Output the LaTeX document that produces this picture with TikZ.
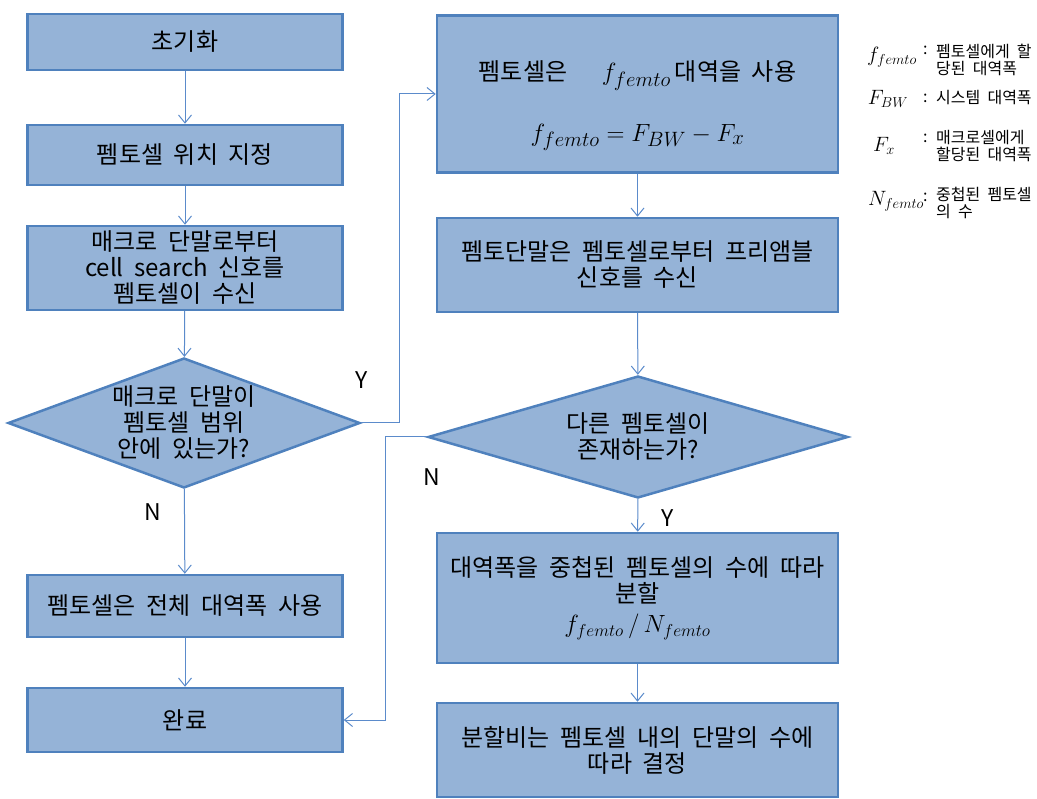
\documentclass[tikz,border=0pt]{standalone}
\usepackage{fontspec}
\setmainfont[WordSpace=2]{Noto Sans CJK KR}
\usetikzlibrary{shapes.geometric,arrows.meta}

\definecolor{boxfill}{HTML}{95B3D7}
\definecolor{boxline}{HTML}{4F81BD}
\definecolor{flowline}{HTML}{5B8BCB}

\tikzset{
  box/.style={draw=boxline, fill=boxfill, line width=2.5pt, rectangle, align=center,
    inner sep=2pt, font=\fontsize{24}{26}\selectfont},
  decision/.style={draw=boxline, fill=boxfill, line width=2.5pt, diamond, align=center,
    inner sep=0pt, font=\fontsize{24}{26}\selectfont},
  flow/.style={draw=flowline, line width=1pt, -{Straight Barb[length=8pt,width=13pt]}},
  yn/.style={font=\fontsize{23}{26}\selectfont},
  sym/.style={font=\fontsize{21}{21}\selectfont},
  note/.style={font=\fontsize{16}{17}\selectfont, align=left, anchor=west, inner sep=0pt}
}

\begin{document}
\begin{tikzpicture}[x=1pt,y=-1pt]
  \useasboundingbox (0,0) rectangle (1037,799);

  % Left column
  \node[box, minimum width=315, minimum height=56] (init) at (185,42) {초기화};
  \node[box, minimum width=315, minimum height=60] (place) at (185,155) {펨토셀 위치 지정};
  \node[box, minimum width=315, minimum height=84] (recv) at (185,268)
    {매크로 단말로부터\\cell search 신호를\\펨토셀이 수신};
  \node[decision, aspect=2.7, minimum width=352, minimum height=130] (inrange) at (184,423)
    {매크로 단말이\\펨토셀 범위\\안에 있는가?};
  \node[box, minimum width=315, minimum height=62] (full) at (185,606) {펨토셀은 전체 대역폭 사용};
  \node[box, minimum width=315, minimum height=64] (done) at (185,720) {완료};

  % Right column
  \node[box, minimum width=401, minimum height=157] (useband) at (637.5,94)
    {\rule{0pt}{44pt}펨토셀은 \quad{\fontsize{30}{30}\selectfont$f_{femto}$}\,대역을 사용\\[32pt]
     {\fontsize{28}{28}\selectfont$f_{femto}=F_{BW}-F_x$}};
  \node[box, minimum width=401, minimum height=94] (pre) at (637.5,265)
    {펨토단말은 펨토셀로부터 프리앰블\\신호를 수신};
  \node[decision, aspect=3.44, minimum width=420, minimum height=122] (other) at (638,437)
    {다른 펨토셀이\\존재하는가?};
  \node[box, minimum width=401, minimum height=130] (split) at (637.5,598)
    {대역폭을 중첩된 펨토셀의 수에 따라\\분할\\[4pt]
     {\fontsize{24}{24}\selectfont$f_{femto}\,/\,N_{femto}$}};
  \node[box, minimum width=401, minimum height=94] (ratio) at (637.5,750)
    {분할비는 펨토셀 내의 단말의 수에\\따라 결정};

  % Connectors
  \draw[flow] (init) -- (place);
  \draw[flow] (place) -- (recv);
  \draw[flow] (recv) -- (inrange);
  \draw[flow] (inrange) -- (full);
  \draw[flow] (full) -- (done);
  \draw[flow] (inrange.east) -- ++(38,0) |- (useband.west);
  \draw[flow] (useband) -- (pre);
  \draw[flow] (pre) -- (other);
  \draw[flow] (other) -- (split);
  \draw[flow] (split) -- (ratio);
  \draw[flow] (other.west) -- ++(-41,0) |- (done.east);

  % Branch labels
  \node[yn] (y1) at (362,380) {Y};
  \node[yn] (n1) at (153,512) {N};
  \node[yn] (n2) at (432,477) {N};
  \node[yn] (y2) at (668,518) {Y};

  % Legend
  \node[sym] (s1) at (892,57) {$f_{femto}$};
  \node[note] (c1) at (923,50) {:};
  \node[note] (t1) at (936,60) {펨토셀에게 할\\당된 대역폭};
  \node[sym] (s2) at (888,99) {$F_{BW}$};
  \node[note] (c2) at (923,98) {:};
  \node[note] (t2) at (936,98) {시스템 대역폭};
  \node[sym] (s3) at (884,146) {$F_x$};
  \node[note] (c3) at (923,138) {:};
  \node[note] (t3) at (936,146) {매크로셀에게\\할당된 대역폭};
  \node[sym] (s4) at (896,201) {$N_{femto}$};
  \node[note] (c4) at (923,197) {:};
  \node[note] (t4) at (936,203) {중첩된 펨토셀\\의 수};
\end{tikzpicture}
\end{document}
